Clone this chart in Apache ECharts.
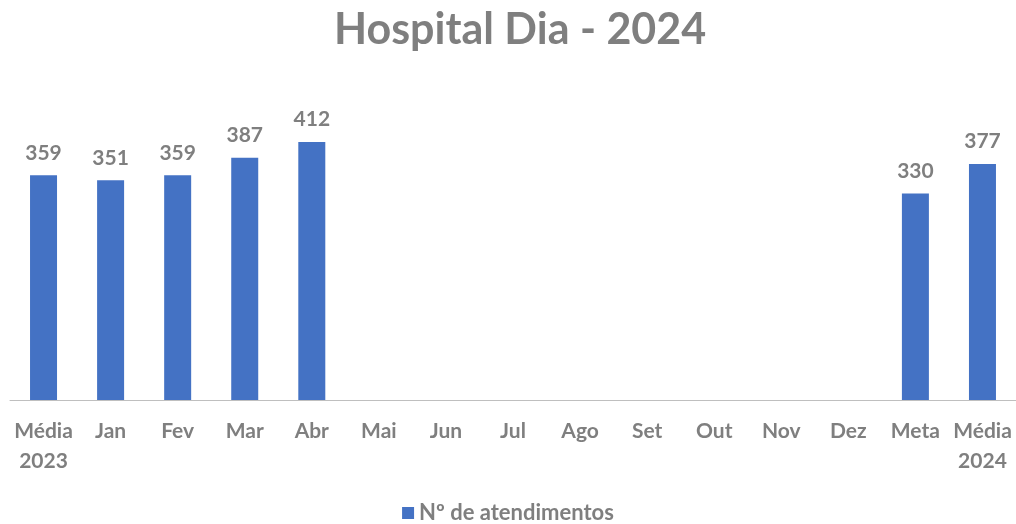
<!DOCTYPE html>
<html>
<head>
    <meta charset="utf-8">
    <title>Hospital Dia - 2024</title>
    <script type="text/javascript" src="https://cdn.jsdelivr.net/npm/echarts@6/dist/echarts.min.js"></script>
    <style>
        body { margin: 0; background: #fff; }
        #app { width: 1016px; height: 524px; }
    </style>
</head>
<body>
    <div id="app"></div>
<script type="text/javascript">
    // categorias e valores
    var categorias = ['Média\n2023', 'Jan', 'Fev', 'Mar', 'Abr', 'Mai', 'Jun', 'Jul', 'Ago', 'Set', 'Out', 'Nov', 'Dez', 'Meta', 'Média\n2024'];
    var atendimentos = [359, 351, 359, 387, 412, null, null, null, null, null, null, null, null, 330, 377];
    var serieNome = 'Nº de atendimentos';

    var cinza = '#7f7f7f';
    var fonte = 'Lato, "Open Sans", sans-serif';

    var option = {
        animation: false,
        title: {
            text: 'Hospital Dia - 2024',
            left: 329,
            top: 4,
            textStyle: { fontFamily: fonte, fontSize: 43, fontWeight: 'bold', color: cinza }
        },
        legend: {
            bottom: -5,
            left: 'center',
            itemWidth: 12,
            itemHeight: 12,
            itemGap: 6,
            icon: 'rect',
            textStyle: { fontFamily: fonte, fontSize: 22, fontWeight: 'bold', color: cinza },
            data: [serieNome]
        },
        grid: { left: 10, width: 1008, top: 87, bottom: 124 },
        xAxis: {
            type: 'category',
            data: categorias,
            axisLine: { lineStyle: { color: '#bfbfbf' } },
            axisTick: { length: 7, lineStyle: { color: '#bfbfbf' } },
            axisLabel: {
                interval: 0,
                margin: 16,
                fontFamily: fonte, fontSize: 21, fontWeight: 'bold', color: cinza,
                lineHeight: 30
            }
        },
        yAxis: {
            type: 'value',
            min: 0,
            max: 500,
            show: false,
            splitLine: { show: false }
        },
        series: [{
            name: serieNome,
            type: 'bar',
            barWidth: 27,
            data: atendimentos,
            itemStyle: { color: '#4472c4' },
            label: {
                show: true,
                position: 'top',
                distance: 12,
                fontFamily: fonte, fontSize: 21, fontWeight: 'bold', color: cinza
            }
        }]
    };
    var myChart = echarts.init(document.getElementById('app'));
    myChart.setOption(option);
</script>
</body>
</html>
